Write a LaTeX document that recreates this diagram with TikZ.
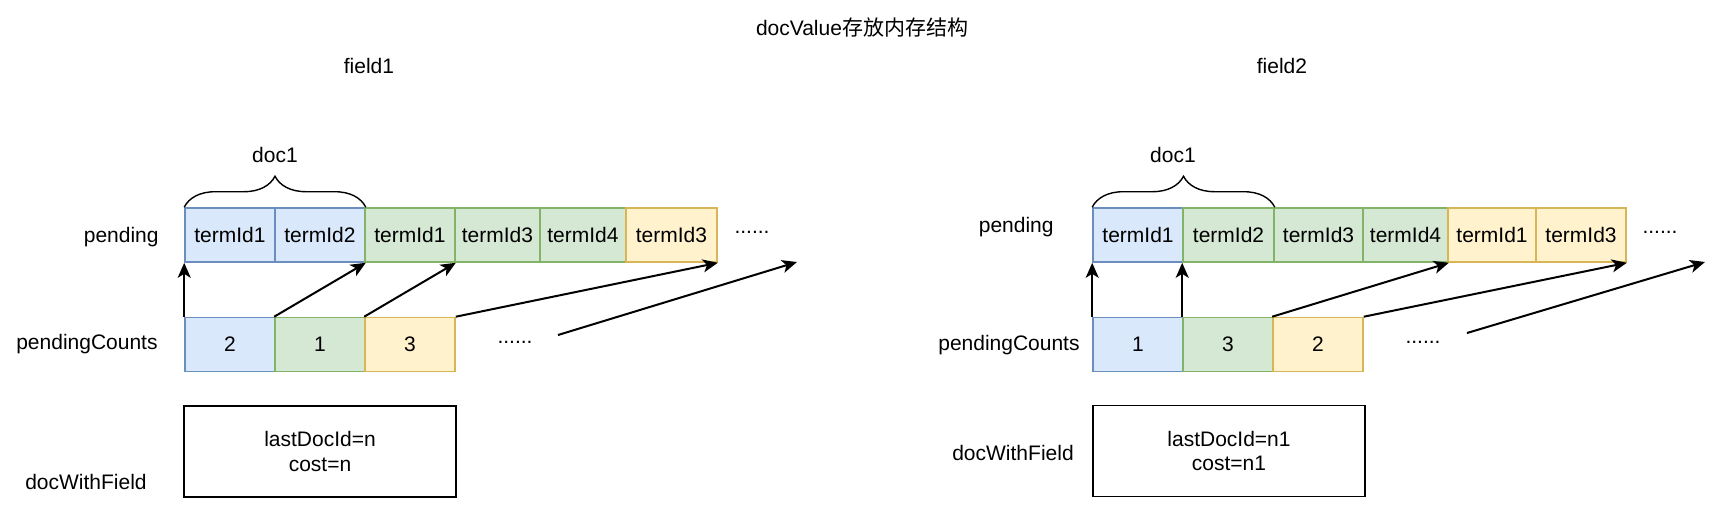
\documentclass[tikz,border=0pt]{standalone}
\usepackage{fontspec}
\setmainfont{Liberation Sans}
\newfontfamily\cjk{Noto Sans CJK SC}
\usepackage{tikz}
\usetikzlibrary{arrows.meta, decorations.pathreplacing}

\definecolor{bluefill}{HTML}{DAE8FC}
\definecolor{blueline}{HTML}{6C8EBF}
\definecolor{greenfill}{HTML}{D5E8D4}
\definecolor{greenline}{HTML}{82B366}
\definecolor{yellowfill}{HTML}{FFF2CC}
\definecolor{yellowline}{HTML}{D6B656}

\tikzset{
  txt/.style={font=\fontsize{10.5}{12.4}\selectfont, inner sep=0pt},
  cell/.style={txt, draw, line width=0.8pt, minimum height=27pt},
  bluec/.style={cell, fill=bluefill, draw=blueline},
  greenc/.style={cell, fill=greenfill, draw=greenline},
  yellowc/.style={cell, fill=yellowfill, draw=yellowline},
  ptr/.style={-{Stealth[length=7.5pt,width=6.5pt,inset=2pt]}, line width=1pt},
  bracket/.style={decorate, decoration={brace, amplitude=15.5pt}, line width=0.7pt}
}

\begin{document}
\begin{tikzpicture}[x=0.5pt,y=-0.5pt]
  \useasboundingbox (0,0) rectangle (1726,526);

  % Title
  \node[txt] (title) at (862,28) {docValue{\cjk 存放内存结构}};
  \node[txt] (f1) at (369,66) {field1};
  \node[txt] (f2) at (1282,66) {field2};

  % ---- field1 ----
  \foreach \n/\a/\b/\c/\t in {1/185/275/bluec/termId1, 2/275/365/bluec/termId2,
      3/365/455/greenc/termId1, 4/455/540/greenc/termId3,
      5/540/626/greenc/termId4, 6/626/717/yellowc/termId3}
    \node[\c, minimum width=(\b-\a)*0.5pt] (lp\n) at ({(\a+\b)/2},235) {\t};
  \foreach \n/\a/\b/\c/\t in {1/185/275/bluec/2, 2/275/365/greenc/1, 3/365/455/yellowc/3}
    \node[\c, minimum width=(\b-\a)*0.5pt] (lc\n) at ({(\a+\b)/2},344.5) {\t};

  \node[txt, anchor=east] (lpend) at (159,237) {pending};
  \node[txt, anchor=east] (lcnt) at (158,344) {pendingCounts};
  \node[txt] (ldwf) at (86,482) {docWithField};
  \node[txt, draw, line width=0.8pt, minimum width=136pt, minimum height=45.5pt, align=center]
    (lbox) at (320,451.5) {lastDocId=n\\cost=n};

  \node[txt] (ldoc) at (275,155) {doc1};
  \draw[bracket] (lp1.north west) -- (lp2.north east);

  \node[txt] (ldots1) at (752,232) {......};
  \node[txt] (ldots2) at (515,342) {......};
  \coordinate (lfrom) at (558,335);
  \coordinate (lto) at (797,262);

  % pointers
  \draw[ptr] (lc1.north west) -- (lp1.south west);
  \draw[ptr] (lc2.north west) -- (lp2.south east);
  \draw[ptr] (lc3.north west) -- (lp3.south east);
  \draw[ptr] (lc3.north east) -- (lp6.south east);
  \draw[ptr] (lfrom) -- (lto);

  % ---- field2 ----
  \foreach \n/\a/\b/\c/\t in {1/1093/1183/bluec/termId1, 2/1183/1274/greenc/termId2,
      3/1274/1363/greenc/termId3, 4/1363/1448/greenc/termId4,
      5/1448/1536/yellowc/termId1, 6/1536/1626/yellowc/termId3}
    \node[\c, minimum width=(\b-\a)*0.5pt] (rp\n) at ({(\a+\b)/2},235) {\t};
  \foreach \n/\a/\b/\c/\t in {1/1093/1183/bluec/1, 2/1183/1273/greenc/3, 3/1273/1363/yellowc/2}
    \node[\c, minimum width=(\b-\a)*0.5pt] (rc\n) at ({(\a+\b)/2},344.5) {\t};

  \node[txt, anchor=east] (rpend) at (1054,227) {pending};
  \node[txt, anchor=east] (rcnt) at (1080,345) {pendingCounts};
  \node[txt] (rdwf) at (1013,453) {docWithField};
  \node[txt, draw, line width=0.8pt, minimum width=136pt, minimum height=45.5pt, align=center]
    (rbox) at (1229,451) {lastDocId=n1\\cost=n1};

  \node[txt] (rdoc) at (1173,155) {doc1};
  \draw[bracket] (rp1.north west) -- (rp2.north east);

  \node[txt] (rdots1) at (1660,232) {......};
  \node[txt] (rdots2) at (1423,342) {......};
  \coordinate (rfrom) at (1467,333);
  \coordinate (rto) at (1705,262);

  % pointers
  \draw[ptr] (rc1.north west) -- (rp1.south west);
  \draw[ptr] (rc2.north west) -- (rp2.south west);
  \draw[ptr] (rc3.north west) -- (rp4.south east);
  \draw[ptr] (rc3.north east) -- (rp6.south east);
  \draw[ptr] (rfrom) -- (rto);
\end{tikzpicture}
\end{document}
